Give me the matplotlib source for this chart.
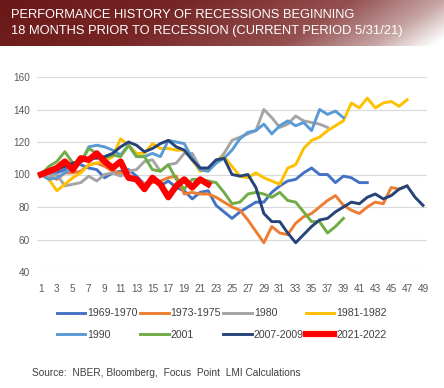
import matplotlib.pyplot as plt
import numpy as np
from matplotlib.colors import LinearSegmentedColormap

plt.rcParams['font.family'] = ['Liberation Sans', 'DejaVu Sans']

# Data (index = 100 at month 1)
rec_1969 = [100, 99, 101, 103, 107, 106, 104, 103, 98, 101, 102, 103, 99, 94, 97, 93, 96, 92, 90, 85,
            89, 90, 81, 77, 73, 77, 80, 83, 83, 89, 93, 96, 97, 101, 104, 100, 100, 95, 99, 98, 95, 95]
rec_1973 = [100, 99, 97, 101, 101, 102, 106, 107, 105, 102, 101, 98, 97, 94, 95, 96, 98, 99, 88, 89,
            88, 88, 86, 83, 80, 78, 72, 65, 58, 68, 64, 63, 70, 74, 76, 80, 84, 87, 81, 78,
            76, 80, 83, 82, 92, 91, 93]
rec_1980 = [100, 99, 100, 93, 94, 95, 99, 96, 100, 101, 99, 102, 103, 108, 109, 102, 106, 107, 113, 113,
            104, 103, 107, 113, 121, 123, 125, 127, 140, 135, 129, 131, 136, 133, 132, 131, 129]
rec_1981 = [100, 97, 90, 94, 98, 101, 106, 107, 108, 111, 122, 118, 113, 113, 119, 116, 116, 115, 115, 109,
            102, 103, 108, 111, 105, 99, 98, 101, 98, 96, 94, 104, 106, 116, 121, 123, 127, 130, 133, 144,
            141, 147, 141, 144, 145, 142, 146]
rec_1990 = [100, 97, 98, 101, 104, 107, 117, 118, 117, 115, 112, 118, 111, 111, 113, 111, 121, 120, 119, 110,
            103, 102, 107, 110, 115, 122, 126, 127, 131, 125, 130, 133, 130, 132, 127, 140, 137, 139, 135]
rec_2001 = [100, 105, 108, 114, 107, 108, 116, 113, 110, 112, 111, 118, 111, 111, 103, 102, 106, 97, 91, 97,
            97, 96, 95, 89, 82, 83, 88, 89, 88, 86, 89, 84, 83, 77, 71, 71, 64, 68, 73]
rec_2007 = [100, 101, 103, 105, 107, 108, 110, 110, 111, 113, 117, 120, 118, 114, 116, 119, 121, 117, 115, 109,
            104, 104, 109, 110, 100, 99, 100, 92, 76, 71, 71, 64, 58, 63, 68, 72, 73, 77, 80, 83,
            82, 86, 88, 85, 87, 91, 93, 86, 81]
rec_2021 = [100, 102, 104, 108, 103, 110, 109, 113, 108, 104, 108, 98, 97, 91, 98, 94, 86, 93, 97, 92,
            97, 94]

labels = ['1969-1970', '1973-1975', '1980', '1981-1982', '1990', '2001', '2007-2009', '2021-2022']
series = [rec_1969, rec_1973, rec_1980, rec_1981, rec_1990, rec_2001, rec_2007, rec_2021]
colors = ['#4472C4', '#ED7D31', '#A5A5A5', '#FFC000', '#5B9BD5', '#70AD47', '#264478', '#FF0000']

W, H = 444, 388
fig = plt.figure(figsize=(W / 100, H / 100), dpi=100)

# Title banner with gradient
bax = fig.add_axes([0, 1 - 46 / H, 1, 46 / H])
cmap = LinearSegmentedColormap.from_list('ban', [(0, '#6a1818'), (0.35, '#762424'), (0.7, '#94504f'),
                                                 (0.88, '#c7a5a5'), (1, '#ffffff')])
gx = np.linspace(0, 1, 300)
gy = np.linspace(0, 1, 40)
grad = np.clip(gx[None, :] * 0.88 + gy[:, None] * 0.14, 0, 1)
bax.imshow(grad, cmap=cmap, aspect='auto', extent=[0, 1, 0, 1], origin='upper', vmin=0, vmax=1)
bax.set_axis_off()
fig.text(11 / W, 1 - 15 / H, 'PERFORMANCE HISTORY OF RECESSIONS BEGINNING',
         color='white', fontsize=9.3, va='center', ha='left')
fig.text(11 / W, 1 - 31 / H, '18 MONTHS PRIOR TO RECESSION (CURRENT PERIOD 5/31/21)',
         color='white', fontsize=9.3, va='center', ha='left')

# Chart
ax = fig.add_axes([37 / W, 1 - 272 / H, 390 / W, 195 / H])
lines = []
for i, s in enumerate(series):
    x = np.arange(1, len(s) + 1)
    is_cur = labels[i] == '2021-2022'
    ln, = ax.plot(x, s, color=colors[i], lw=4.5 if is_cur else 2.1, label=labels[i],
                  zorder=10 if is_cur else 3)
    lines.append(ln)

ax.set_xlim(0.5, 49.5)
ax.set_ylim(40, 160)
ax.set_yticks(np.arange(40, 161, 20))
ax.set_xticks(np.arange(1, 50, 2))
ax.grid(axis='y', color='#d9d9d9', lw=0.8)
ax.set_axisbelow(True)
for sp in ax.spines.values():
    sp.set_visible(False)
ax.tick_params(length=0, labelsize=7.2, colors='#595959', pad=5)
ax.tick_params(axis='x', pad=9)

# legend filled row by row
order = [0, 4, 1, 5, 2, 6, 3, 7]
leg = ax.legend([lines[k] for k in order], [labels[k] for k in order],
                loc='center', bbox_to_anchor=(0.5, 1 - 324 / H), bbox_transform=fig.transFigure,
                ncol=4, frameon=False, fontsize=7.6, handlelength=2.7, handletextpad=0.2,
                columnspacing=0.2, labelspacing=1.1)
for t in leg.get_texts():
    t.set_color('#404040')

fig.text(32 / W, 1 - 373 / H, 'Source:  NBER, Bloomberg,  Focus  Point  LMI Calculations',
         fontsize=7.3, color='#404040', va='center')

fig.savefig('out.png', dpi=100)
